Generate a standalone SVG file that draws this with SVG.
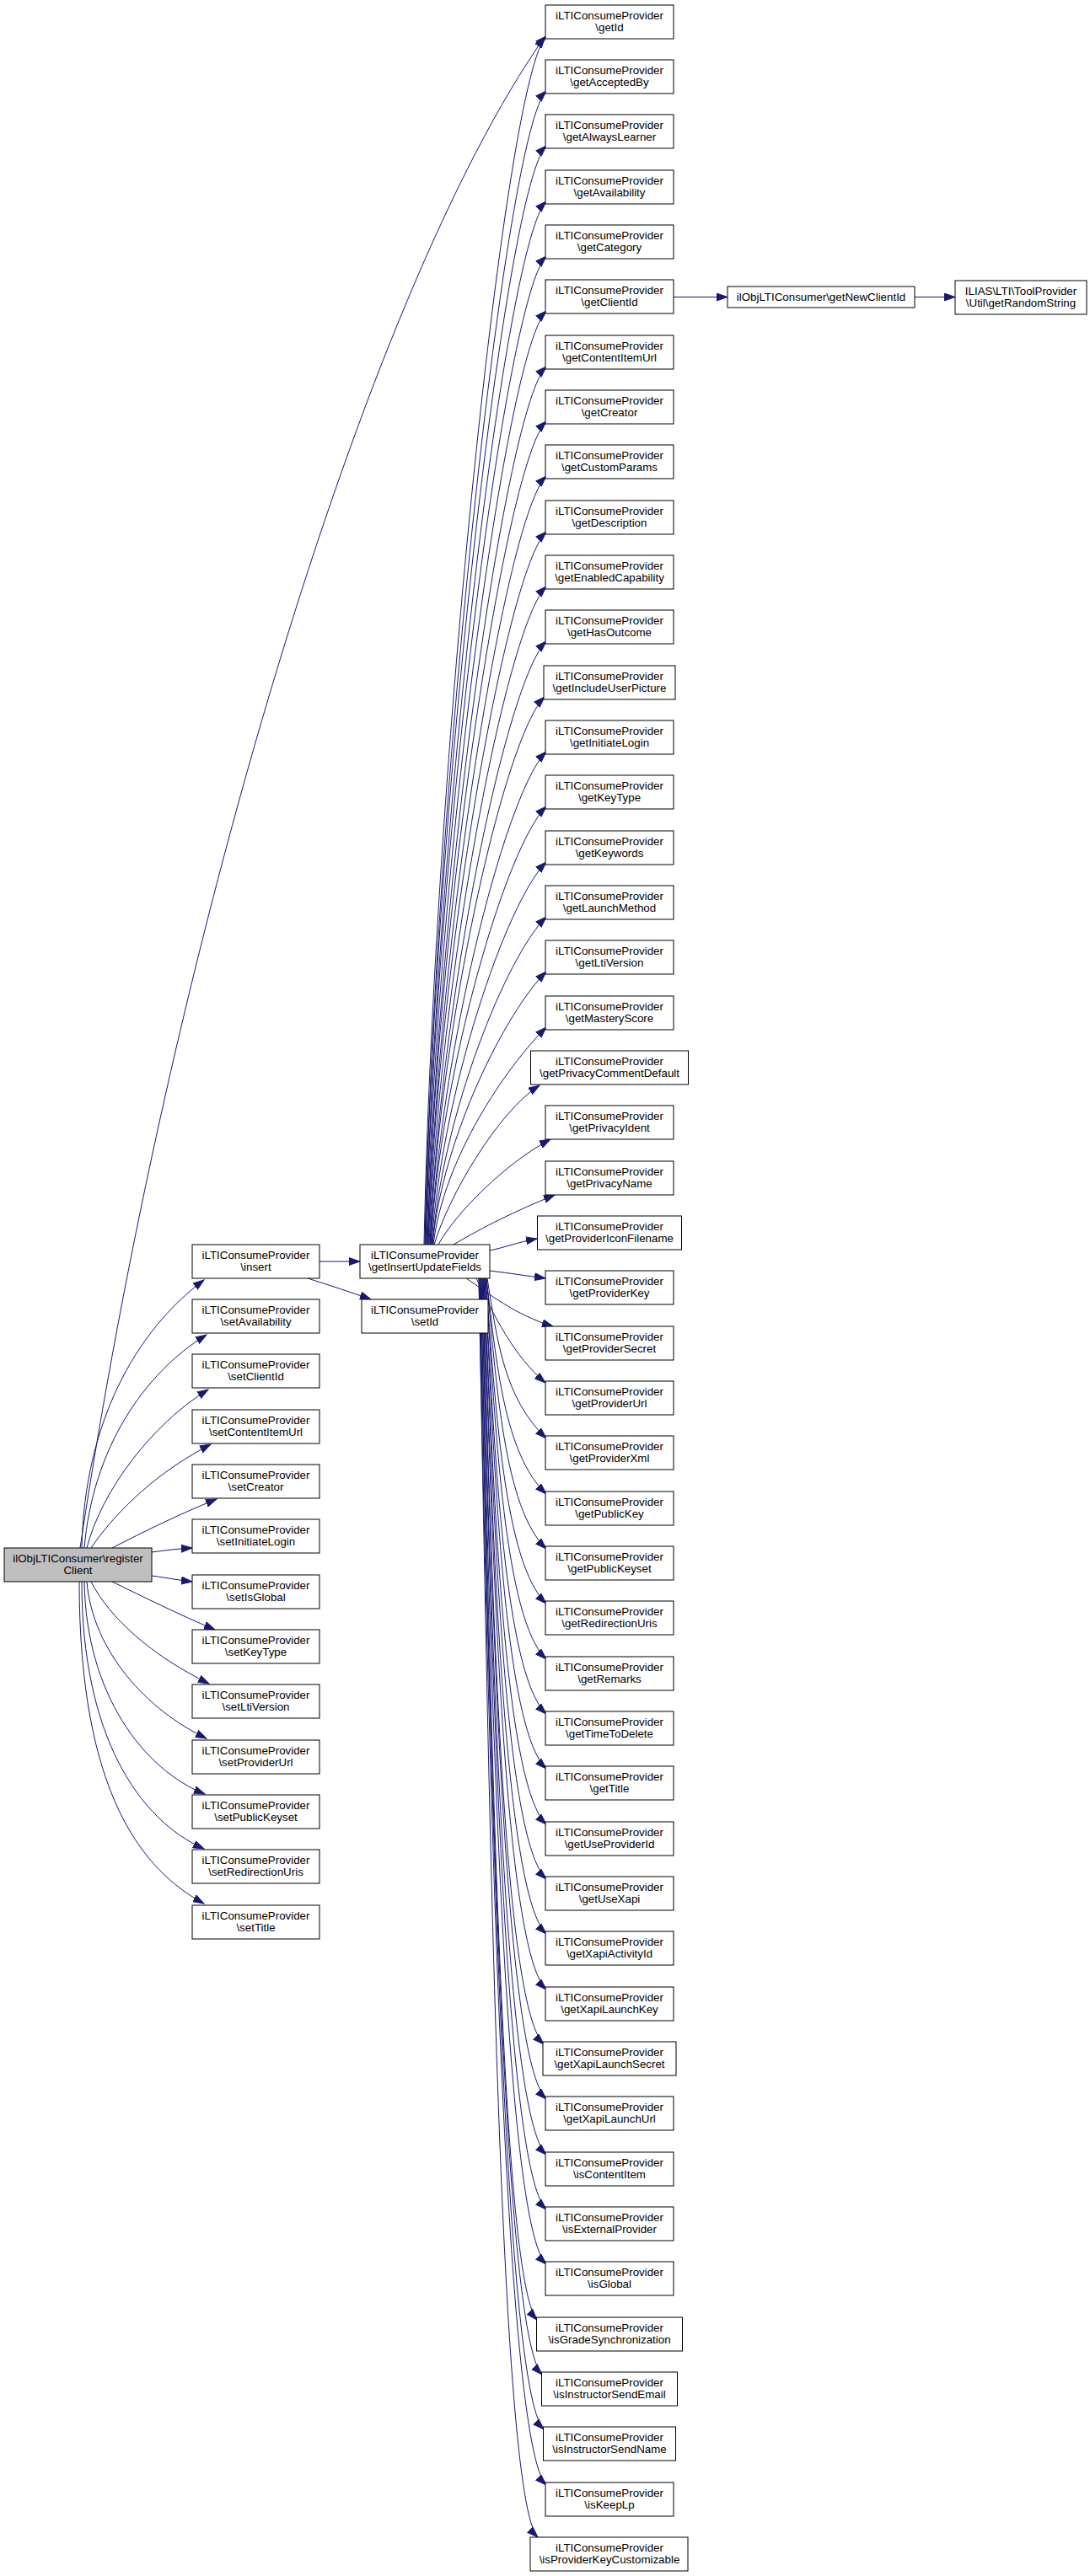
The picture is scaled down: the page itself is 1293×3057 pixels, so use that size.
<svg xmlns="http://www.w3.org/2000/svg" width="1293" height="3057" viewBox="0 0 1293 3057">
<defs>
<marker id="ah" markerWidth="14" markerHeight="10" refX="13" refY="5" orient="auto" markerUnits="userSpaceOnUse"><path d="M0,0.5 L13,5 L0,9.5 z" fill="#191970" stroke="#191970" stroke-width="1"/></marker>
</defs>
<style>
.n rect{fill:#fff;stroke:#000;stroke-width:1}
.m rect{fill:#bfbfbf;stroke:#000;stroke-width:1}
text{font-family:"Liberation Sans",Arial,Helvetica,sans-serif;font-size:13.33px;text-anchor:middle;fill:#000}
.e path{fill:none;stroke:#191970;stroke-width:1;marker-end:url(#ah)}
</style>
<rect width="1293" height="3057" fill="#fff"/>
<g class="e" id="edges">
<path d="M95,1837 C200,1137 430,352 646,44"/>
<path d="M97,1837 C100,1690 160,1580 242,1519"/>
<path d="M100,1837 C110,1720 170,1630 245,1584"/>
<path d="M103,1837 C120,1770 180,1690 247,1649"/>
<path d="M108,1837 C140,1790 190,1745 250,1714"/>
<path d="M133,1837 C170,1818 210,1798 257,1779"/>
<path d="M180,1842 C195,1840 210,1838 228,1837"/>
<path d="M180,1870 C195,1872 210,1875 228,1877"/>
<path d="M133,1877 C170,1895 210,1915 255,1934"/>
<path d="M108,1877 C130,1920 180,1965 248,1998"/>
<path d="M103,1877 C110,1960 175,2030 245,2063"/>
<path d="M100,1877 C102,2010 170,2100 243,2129"/>
<path d="M97,1877 C97,2060 165,2160 242,2194"/>
<path d="M94,1877 C94,2130 170,2220 242,2259"/>
<path d="M379,1497 L427,1497"/>
<path d="M365,1517 C390,1525 415,1533 440,1542"/>
<path d="M799,352.5 L863,352.5"/>
<path d="M1085,352.5 L1133,352.5"/>
<path d="M503,1477 C515,905 600,91 648,43"/>
<path d="M504,1477 C516,931 600,156 648,108"/>
<path d="M504,1477 C516,957 600,221 648,173"/>
<path d="M505,1477 C517,983 600,287 648,239"/>
<path d="M505,1477 C517,1009 600,352 648,304"/>
<path d="M506,1477 C518,1035 600,417 648,369"/>
<path d="M507,1477 C519,1061 600,483 648,435"/>
<path d="M507,1477 C519,1087 600,548 648,500"/>
<path d="M508,1477 C520,1113 600,613 648,565"/>
<path d="M508,1477 C520,1140 600,679 648,631"/>
<path d="M509,1477 C521,1166 600,744 648,696"/>
<path d="M510,1477 C522,1192 600,809 648,761"/>
<path d="M510,1477 C522,1218 598,875 646,827"/>
<path d="M511,1477 C523,1244 600,940 648,892"/>
<path d="M511,1477 C523,1270 600,1005 648,957"/>
<path d="M512,1477 C524,1297 600,1071 648,1023"/>
<path d="M513,1477 C525,1323 600,1136 648,1088"/>
<path d="M513,1477 C525,1349 600,1201 648,1153"/>
<path d="M514,1477 C526,1375 600,1267 648,1219"/>
<path d="M515,1477 C532,1420 590,1320 640,1288"/>
<path d="M520,1477 C540,1440 600,1380 653,1352"/>
<path d="M538,1477 C575,1455 610,1438 658,1418"/>
<path d="M581,1484 C600,1480 615,1474 637,1470"/>
<path d="M581,1508 C605,1511 625,1514 647,1517"/>
<path d="M553,1517 C580,1535 610,1560 656,1574"/>
<path d="M565,1517 C585,1560 610,1610 647,1641"/>
<path d="M578,1517 C590,1592 598,1659 648,1707"/>
<path d="M577,1517 C589,1618 598,1725 648,1773"/>
<path d="M577,1517 C589,1644 598,1790 648,1838"/>
<path d="M576,1517 C588,1670 598,1855 648,1903"/>
<path d="M576,1517 C588,1697 598,1921 648,1969"/>
<path d="M575,1517 C587,1723 598,1986 648,2034"/>
<path d="M575,1517 C587,1749 598,2051 648,2099"/>
<path d="M574,1517 C586,1775 598,2117 648,2165"/>
<path d="M574,1517 C586,1801 598,2182 648,2230"/>
<path d="M573,1517 C585,1827 598,2247 648,2295"/>
<path d="M573,1517 C585,1853 598,2313 648,2361"/>
<path d="M572,1517 C584,1879 596,2378 645,2426"/>
<path d="M572,1517 C584,1905 598,2443 648,2491"/>
<path d="M571,1517 C583,1932 598,2509 648,2557"/>
<path d="M571,1517 C583,1958 598,2574 648,2622"/>
<path d="M570,1517 C582,1984 598,2639 648,2687"/>
<path d="M570,1517 C582,2010 594,2705 637,2753"/>
<path d="M569,1517 C581,2036 596,2770 643,2818"/>
<path d="M569,1517 C581,2062 597,2835 645,2883"/>
<path d="M568,1517 C580,2089 598,2901 648,2949"/>
<path d="M568,1517 C580,2115 592,2966 638,3011"/>
</g>
<g id="n_main" class="m"><rect x="5" y="1837" width="175" height="40"/><text x="92.5" y="1853.5">ilObjLTIConsumer\register</text><text x="92.5" y="1867.5">Client</text></g>
<g id="n_insert" class="n"><rect x="228" y="1477" width="151" height="40"/><text x="303.5" y="1493.5">iLTIConsumeProvider</text><text x="303.5" y="1507.5">\insert</text></g>
<g id="n_setAvailability" class="n"><rect x="228" y="1542" width="151" height="40"/><text x="303.5" y="1558.5">iLTIConsumeProvider</text><text x="303.5" y="1572.5">\setAvailability</text></g>
<g id="n_setClientId" class="n"><rect x="228" y="1607" width="151" height="40"/><text x="303.5" y="1623.5">iLTIConsumeProvider</text><text x="303.5" y="1637.5">\setClientId</text></g>
<g id="n_setContentItemUrl" class="n"><rect x="228" y="1673" width="151" height="40"/><text x="303.5" y="1689.5">iLTIConsumeProvider</text><text x="303.5" y="1703.5">\setContentItemUrl</text></g>
<g id="n_setCreator" class="n"><rect x="228" y="1738" width="151" height="40"/><text x="303.5" y="1754.5">iLTIConsumeProvider</text><text x="303.5" y="1768.5">\setCreator</text></g>
<g id="n_setInitiateLogin" class="n"><rect x="228" y="1803" width="151" height="40"/><text x="303.5" y="1819.5">iLTIConsumeProvider</text><text x="303.5" y="1833.5">\setInitiateLogin</text></g>
<g id="n_setIsGlobal" class="n"><rect x="228" y="1869" width="151" height="40"/><text x="303.5" y="1885.5">iLTIConsumeProvider</text><text x="303.5" y="1899.5">\setIsGlobal</text></g>
<g id="n_setKeyType" class="n"><rect x="228" y="1934" width="151" height="40"/><text x="303.5" y="1950.5">iLTIConsumeProvider</text><text x="303.5" y="1964.5">\setKeyType</text></g>
<g id="n_setLtiVersion" class="n"><rect x="228" y="1999" width="151" height="40"/><text x="303.5" y="2015.5">iLTIConsumeProvider</text><text x="303.5" y="2029.5">\setLtiVersion</text></g>
<g id="n_setProviderUrl" class="n"><rect x="228" y="2065" width="151" height="40"/><text x="303.5" y="2081.5">iLTIConsumeProvider</text><text x="303.5" y="2095.5">\setProviderUrl</text></g>
<g id="n_setPublicKeyset" class="n"><rect x="228" y="2130" width="151" height="40"/><text x="303.5" y="2146.5">iLTIConsumeProvider</text><text x="303.5" y="2160.5">\setPublicKeyset</text></g>
<g id="n_setRedirectionUris" class="n"><rect x="228" y="2195" width="151" height="40"/><text x="303.5" y="2211.5">iLTIConsumeProvider</text><text x="303.5" y="2225.5">\setRedirectionUris</text></g>
<g id="n_setTitle" class="n"><rect x="228" y="2261" width="151" height="40"/><text x="303.5" y="2277.5">iLTIConsumeProvider</text><text x="303.5" y="2291.5">\setTitle</text></g>
<g id="n_getInsertUpdateFields" class="n"><rect x="427" y="1477" width="154" height="40"/><text x="504" y="1493.5">iLTIConsumeProvider</text><text x="504" y="1507.5">\getInsertUpdateFields</text></g>
<g id="n_setId" class="n"><rect x="429" y="1542" width="150" height="40"/><text x="504" y="1558.5">iLTIConsumeProvider</text><text x="504" y="1572.5">\setId</text></g>
<g id="n_getNewClientId" class="n"><rect x="863" y="340" width="222" height="25"/><text x="974" y="357">ilObjLTIConsumer\getNewClientId</text></g>
<g id="n_getRandomString" class="n"><rect x="1133" y="333" width="156" height="40"/><text x="1211" y="349.5">ILIAS\LTI\ToolProvider</text><text x="1211" y="363.5">\Util\getRandomString</text></g>
<g id="n_getId" class="n"><rect x="647" y="6" width="152" height="40"/><text x="723" y="22.5">iLTIConsumeProvider</text><text x="723" y="36.5">\getId</text></g>
<g id="n_getAcceptedBy" class="n"><rect x="647" y="71" width="152" height="40"/><text x="723" y="87.5">iLTIConsumeProvider</text><text x="723" y="101.5">\getAcceptedBy</text></g>
<g id="n_getAlwaysLearner" class="n"><rect x="647" y="136" width="152" height="40"/><text x="723" y="152.5">iLTIConsumeProvider</text><text x="723" y="166.5">\getAlwaysLearner</text></g>
<g id="n_getAvailability" class="n"><rect x="647" y="202" width="152" height="40"/><text x="723" y="218.5">iLTIConsumeProvider</text><text x="723" y="232.5">\getAvailability</text></g>
<g id="n_getCategory" class="n"><rect x="647" y="267" width="152" height="40"/><text x="723" y="283.5">iLTIConsumeProvider</text><text x="723" y="297.5">\getCategory</text></g>
<g id="n_getClientId" class="n"><rect x="647" y="332" width="152" height="40"/><text x="723" y="348.5">iLTIConsumeProvider</text><text x="723" y="362.5">\getClientId</text></g>
<g id="n_getContentItemUrl" class="n"><rect x="647" y="398" width="152" height="40"/><text x="723" y="414.5">iLTIConsumeProvider</text><text x="723" y="428.5">\getContentItemUrl</text></g>
<g id="n_getCreator" class="n"><rect x="647" y="463" width="152" height="40"/><text x="723" y="479.5">iLTIConsumeProvider</text><text x="723" y="493.5">\getCreator</text></g>
<g id="n_getCustomParams" class="n"><rect x="647" y="528" width="152" height="40"/><text x="723" y="544.5">iLTIConsumeProvider</text><text x="723" y="558.5">\getCustomParams</text></g>
<g id="n_getDescription" class="n"><rect x="647" y="594" width="152" height="40"/><text x="723" y="610.5">iLTIConsumeProvider</text><text x="723" y="624.5">\getDescription</text></g>
<g id="n_getEnabledCapability" class="n"><rect x="647" y="659" width="152" height="40"/><text x="723" y="675.5">iLTIConsumeProvider</text><text x="723" y="689.5">\getEnabledCapability</text></g>
<g id="n_getHasOutcome" class="n"><rect x="647" y="724" width="152" height="40"/><text x="723" y="740.5">iLTIConsumeProvider</text><text x="723" y="754.5">\getHasOutcome</text></g>
<g id="n_getIncludeUserPicture" class="n"><rect x="645" y="790" width="156" height="40"/><text x="723" y="806.5">iLTIConsumeProvider</text><text x="723" y="820.5">\getIncludeUserPicture</text></g>
<g id="n_getInitiateLogin" class="n"><rect x="647" y="855" width="152" height="40"/><text x="723" y="871.5">iLTIConsumeProvider</text><text x="723" y="885.5">\getInitiateLogin</text></g>
<g id="n_getKeyType" class="n"><rect x="647" y="920" width="152" height="40"/><text x="723" y="936.5">iLTIConsumeProvider</text><text x="723" y="950.5">\getKeyType</text></g>
<g id="n_getKeywords" class="n"><rect x="647" y="986" width="152" height="40"/><text x="723" y="1002.5">iLTIConsumeProvider</text><text x="723" y="1016.5">\getKeywords</text></g>
<g id="n_getLaunchMethod" class="n"><rect x="647" y="1051" width="152" height="40"/><text x="723" y="1067.5">iLTIConsumeProvider</text><text x="723" y="1081.5">\getLaunchMethod</text></g>
<g id="n_getLtiVersion" class="n"><rect x="647" y="1116" width="152" height="40"/><text x="723" y="1132.5">iLTIConsumeProvider</text><text x="723" y="1146.5">\getLtiVersion</text></g>
<g id="n_getMasteryScore" class="n"><rect x="647" y="1182" width="152" height="40"/><text x="723" y="1198.5">iLTIConsumeProvider</text><text x="723" y="1212.5">\getMasteryScore</text></g>
<g id="n_getPrivacyCommentDefault" class="n"><rect x="629.5" y="1247" width="187" height="40"/><text x="723" y="1263.5">iLTIConsumeProvider</text><text x="723" y="1277.5">\getPrivacyCommentDefault</text></g>
<g id="n_getPrivacyIdent" class="n"><rect x="647" y="1312" width="152" height="40"/><text x="723" y="1328.5">iLTIConsumeProvider</text><text x="723" y="1342.5">\getPrivacyIdent</text></g>
<g id="n_getPrivacyName" class="n"><rect x="647" y="1378" width="152" height="40"/><text x="723" y="1394.5">iLTIConsumeProvider</text><text x="723" y="1408.5">\getPrivacyName</text></g>
<g id="n_getProviderIconFilename" class="n"><rect x="637.5" y="1443" width="171" height="40"/><text x="723" y="1459.5">iLTIConsumeProvider</text><text x="723" y="1473.5">\getProviderIconFilename</text></g>
<g id="n_getProviderKey" class="n"><rect x="647" y="1508" width="152" height="40"/><text x="723" y="1524.5">iLTIConsumeProvider</text><text x="723" y="1538.5">\getProviderKey</text></g>
<g id="n_getProviderSecret" class="n"><rect x="647" y="1574" width="152" height="40"/><text x="723" y="1590.5">iLTIConsumeProvider</text><text x="723" y="1604.5">\getProviderSecret</text></g>
<g id="n_getProviderUrl" class="n"><rect x="647" y="1639" width="152" height="40"/><text x="723" y="1655.5">iLTIConsumeProvider</text><text x="723" y="1669.5">\getProviderUrl</text></g>
<g id="n_getProviderXml" class="n"><rect x="647" y="1704" width="152" height="40"/><text x="723" y="1720.5">iLTIConsumeProvider</text><text x="723" y="1734.5">\getProviderXml</text></g>
<g id="n_getPublicKey" class="n"><rect x="647" y="1770" width="152" height="40"/><text x="723" y="1786.5">iLTIConsumeProvider</text><text x="723" y="1800.5">\getPublicKey</text></g>
<g id="n_getPublicKeyset" class="n"><rect x="647" y="1835" width="152" height="40"/><text x="723" y="1851.5">iLTIConsumeProvider</text><text x="723" y="1865.5">\getPublicKeyset</text></g>
<g id="n_getRedirectionUris" class="n"><rect x="647" y="1900" width="152" height="40"/><text x="723" y="1916.5">iLTIConsumeProvider</text><text x="723" y="1930.5">\getRedirectionUris</text></g>
<g id="n_getRemarks" class="n"><rect x="647" y="1966" width="152" height="40"/><text x="723" y="1982.5">iLTIConsumeProvider</text><text x="723" y="1996.5">\getRemarks</text></g>
<g id="n_getTimeToDelete" class="n"><rect x="647" y="2031" width="152" height="40"/><text x="723" y="2047.5">iLTIConsumeProvider</text><text x="723" y="2061.5">\getTimeToDelete</text></g>
<g id="n_getTitle" class="n"><rect x="647" y="2096" width="152" height="40"/><text x="723" y="2112.5">iLTIConsumeProvider</text><text x="723" y="2126.5">\getTitle</text></g>
<g id="n_getUseProviderId" class="n"><rect x="647" y="2162" width="152" height="40"/><text x="723" y="2178.5">iLTIConsumeProvider</text><text x="723" y="2192.5">\getUseProviderId</text></g>
<g id="n_getUseXapi" class="n"><rect x="647" y="2227" width="152" height="40"/><text x="723" y="2243.5">iLTIConsumeProvider</text><text x="723" y="2257.5">\getUseXapi</text></g>
<g id="n_getXapiActivityId" class="n"><rect x="647" y="2292" width="152" height="40"/><text x="723" y="2308.5">iLTIConsumeProvider</text><text x="723" y="2322.5">\getXapiActivityId</text></g>
<g id="n_getXapiLaunchKey" class="n"><rect x="647" y="2358" width="152" height="40"/><text x="723" y="2374.5">iLTIConsumeProvider</text><text x="723" y="2388.5">\getXapiLaunchKey</text></g>
<g id="n_getXapiLaunchSecret" class="n"><rect x="644" y="2423" width="158" height="40"/><text x="723" y="2439.5">iLTIConsumeProvider</text><text x="723" y="2453.5">\getXapiLaunchSecret</text></g>
<g id="n_getXapiLaunchUrl" class="n"><rect x="647" y="2488" width="152" height="40"/><text x="723" y="2504.5">iLTIConsumeProvider</text><text x="723" y="2518.5">\getXapiLaunchUrl</text></g>
<g id="n_isContentItem" class="n"><rect x="647" y="2554" width="152" height="40"/><text x="723" y="2570.5">iLTIConsumeProvider</text><text x="723" y="2584.5">\isContentItem</text></g>
<g id="n_isExternalProvider" class="n"><rect x="647" y="2619" width="152" height="40"/><text x="723" y="2635.5">iLTIConsumeProvider</text><text x="723" y="2649.5">\isExternalProvider</text></g>
<g id="n_isGlobal" class="n"><rect x="647" y="2684" width="152" height="40"/><text x="723" y="2700.5">iLTIConsumeProvider</text><text x="723" y="2714.5">\isGlobal</text></g>
<g id="n_isGradeSynchronization" class="n"><rect x="636.5" y="2750" width="173" height="40"/><text x="723" y="2766.5">iLTIConsumeProvider</text><text x="723" y="2780.5">\isGradeSynchronization</text></g>
<g id="n_isInstructorSendEmail" class="n"><rect x="642.5" y="2815" width="161" height="40"/><text x="723" y="2831.5">iLTIConsumeProvider</text><text x="723" y="2845.5">\isInstructorSendEmail</text></g>
<g id="n_isInstructorSendName" class="n"><rect x="644.5" y="2880" width="157" height="40"/><text x="723" y="2896.5">iLTIConsumeProvider</text><text x="723" y="2910.5">\isInstructorSendName</text></g>
<g id="n_isKeepLp" class="n"><rect x="647" y="2946" width="152" height="40"/><text x="723" y="2962.5">iLTIConsumeProvider</text><text x="723" y="2976.5">\isKeepLp</text></g>
<g id="n_isProviderKeyCustomizable" class="n"><rect x="629" y="3011" width="187" height="40"/><text x="723" y="3027.5">iLTIConsumeProvider</text><text x="723" y="3041.5">\isProviderKeyCustomizable</text></g>
</svg>
